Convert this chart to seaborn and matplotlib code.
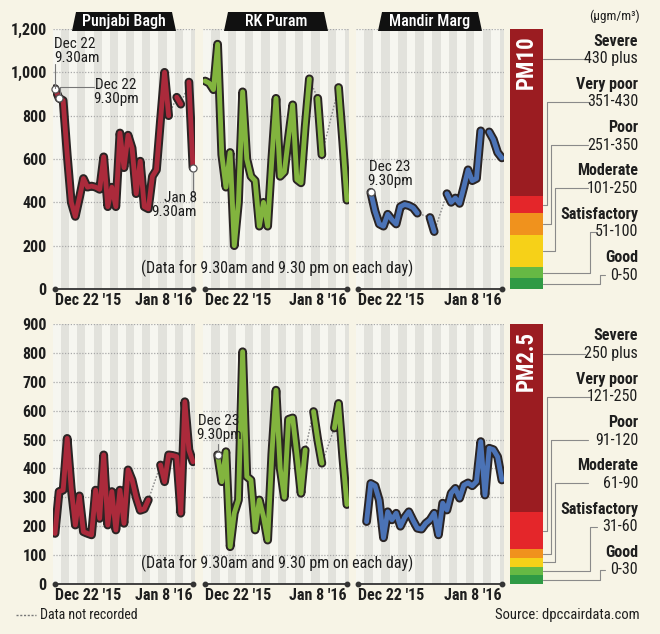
import numpy as np
import pandas as pd
import matplotlib
matplotlib.use("Agg")
import matplotlib.pyplot as plt
import matplotlib.patheffects as pe
from matplotlib import font_manager
from matplotlib.patches import Polygon
import seaborn as sns

nan = np.nan

# ---------------- data ----------------
stations = ["Punjabi Bagh", "RK Puram", "Mandir Marg"]
line_colors = ["#ab2a3b", "#82b43e", "#4b73b6"]
x_tick_labels = ["Dec 22 '15", "Jan 8 '16"]

# 35 readings: Dec 22 9.30am, Dec 22 9.30pm, ... Jan 8 9.30am
pm10_punjabi_bagh = [925, 880, 870, 620, 400, 335, 420, 510, 470, 475, 470, 460,
                     610, 380, 470, 380, 720, 560, 710, 650, 440, 590, 380, 370,
                     520, 550, 780, 1000, 800, nan, 885, 853, nan, 955, 560]
pm10_rk_puram = [960, 950, 920, 1130, 620, 470, 630, 200, 400, 910, 600, 520,
                 500, 290, 400, 290, 600, 880, 520, 540, 700, 850, 505, 490,
                 750, 970, nan, 880, 620, nan, nan, nan, 930, 680, 410]
pm10_mandir_marg = [nan, nan, nan, 446, 360, 300, 290, 345, 320, 300, 380, 390,
                    385, 375, 350, nan, nan, 330, 265, nan, nan, 440, 400, 420,
                    395, 470, 550, 500, 510, 730, nan, 725, 690, 630, 605]

pm25_punjabi_bagh = [175, 320, 325, 504, 330, 204, 305, 181, 175, 170, 325, 227,
                     447, 204, 320, 187, 325, 210, 395, 360, 300, 255, 260, 291,
                     nan, nan, 412, 354, 447, 445, 441, 245, 631, 464, 423]
pm25_rk_puram = [nan, nan, nan, 447, 354, 458, 129, 245, 291, 804, 372, 360,
                 187, 291, 233, 152, 450, 671, 400, 300, 570, 575, 450, 314,
                 464, nan, 597, 500, 418, nan, nan, 540, 625, 440, 275]
pm25_mandir_marg = [nan, nan, 216, 348, 340, 290, 160, 250, 222, 245, 200, 230,
                    250, 220, 193, 190, 210, 222, 245, 170, 280, 256, 314, 331,
                    297, 342, 350, 340, 355, 493, 308, 470, 465, 440, 360]

pm10_ticks = [0, 200, 400, 600, 800, 1000, 1200]
pm25_ticks = [0, 100, 200, 300, 400, 500, 600, 700, 800, 900]

categories = ["Good", "Satisfactory", "Moderate", "Poor", "Very poor", "Severe"]
band_colors = ["#2f9a45", "#66b944", "#f6d118", "#f0921d", "#e4262a", "#9b1c21"]
pm10_bounds = [0, 50, 100, 250, 350, 430, 1200]
pm25_bounds = [0, 30, 60, 90, 120, 250, 900]
pm10_ranges = ["0-50", "51-100", "101-250", "251-350", "351-430", "430 plus"]
pm25_ranges = ["0-30", "31-60", "61-90", "91-120", "121-250", "250 plus"]

# ---------------- style ----------------
sns.set_theme(style="white")
avail = {f.name for f in font_manager.fontManager.ttflist}
FONT = next((f for f in ["Liberation Sans Narrow", "Roboto Condensed", "Roboto", "DejaVu Sans"]
             if f in avail), "DejaVu Sans")
plt.rcParams["font.family"] = [FONT, "DejaVu Sans"]

W, H = 660, 634
BG = "#f7f4e6"
PANEL_BG = "#f6f6f0"
STRIPE = "#e2e2dc"
INK = "#1e1e1e"

fig = plt.figure(figsize=(W / 100, H / 100), dpi=100, facecolor=BG)


def px_axes(x0, x1, y_top, y_bot, **kw):
    return fig.add_axes([x0 / W, 1 - y_bot / H, (x1 - x0) / W, (y_bot - y_top) / H], **kw)


ov = px_axes(0, W, 0, H, zorder=20)
ov.set_xlim(0, W)
ov.set_ylim(H, 0)
ov.axis("off")
ov.patch.set_alpha(0)

panel_x = [(53, 195), (203, 349), (356, 504)]
rows = [
    dict(vals=[pm10_punjabi_bagh, pm10_rk_puram, pm10_mandir_marg], ticks=pm10_ticks,
         top=29, bot=289, bounds=pm10_bounds, ranges=pm10_ranges, name="PM10"),
    dict(vals=[pm25_punjabi_bagh, pm25_rk_puram, pm25_mandir_marg], ticks=pm25_ticks,
         top=324, bot=584, bounds=pm25_bounds, ranges=pm25_ranges, name="PM2.5"),
]

outline = [pe.Stroke(linewidth=6.3, foreground="#2a2424"), pe.Normal()]

for r, row in enumerate(rows):
    for p, (vals, color) in enumerate(zip(row["vals"], line_colors)):
        x0, x1 = panel_x[p]
        ax = px_axes(x0, x1, row["top"], row["bot"])
        n = len(vals)
        ax.set_facecolor(PANEL_BG)
        for d in range(1, n // 2 + 1, 2):
            ax.axvspan(2 * d - 0.5, 2 * d + 1.5, color=STRIPE, lw=0, zorder=0)
        df = pd.DataFrame({"idx": np.arange(n), "value": vals})
        df["seg"] = df["value"].isna().cumsum()
        valid = df.dropna()
        # data-not-recorded connector
        sns.lineplot(data=valid, x="idx", y="value", ax=ax, color="#8a8a8a", lw=1.0,
                     ls=(0, (1.2, 1.2)), estimator=None, sort=False, zorder=2, legend=False)
        sns.lineplot(data=valid, x="idx", y="value", units="seg", estimator=None, sort=False,
                     ax=ax, color=color, lw=3.5, path_effects=outline, zorder=3,
                     solid_capstyle="round", solid_joinstyle="round", legend=False)
        ymax = row["ticks"][-1]
        ax.set_xlim(-0.5, n - 0.5)
        ax.set_ylim(0, ymax)
        ax.plot([0, n - 1], [0, 0], color="#333333", lw=1.3, marker="o", ms=3.2,
                clip_on=False, zorder=4)
        ax.set_yticks(row["ticks"])
        ax.set_yticklabels([f"{t:,}" for t in row["ticks"]])
        ax.grid(axis="y", color="#a9a9a9", ls=(0, (1, 1.3)), lw=0.9)
        ax.set_axisbelow(True)
        ax.set_xticks([0, n - 1])
        ax.set_xticklabels(x_tick_labels)
        xl = ax.get_xticklabels()
        xl[0].set_ha("left")
        xl[1].set_ha("right")
        ax.tick_params(length=0, labelsize=11.5, colors=INK, pad=3)
        ax.tick_params(axis="y", pad=4.5)
        for lab in ax.get_yticklabels() + ax.get_xticklabels():
            lab.set_fontweight("bold")
        if p > 0:
            ax.tick_params(labelleft=False)
        for s in ax.spines.values():
            s.set_visible(False)
        ax.set_xlabel("")
        ax.set_ylabel("")
        # annotated markers
        marks = {(0, 0): [0, 1, n - 1], (0, 2): [3], (1, 1): [3]}.get((r, p), [])
        if marks:
            ax.scatter(df["idx"].iloc[marks], df["value"].iloc[marks], s=26, facecolor="white",
                       edgecolor="#555555", lw=0.9, zorder=5, clip_on=False)
        if r == 0:
            cx = (x0 + x1) / 2
            ov.add_patch(Polygon([(cx - 52, 31), (cx - 48, 12), (cx + 48, 12), (cx + 52, 31)],
                                 closed=True, color="#111111", lw=0))
            ov.text(cx, 21.5, stations[p], color="white", fontsize=11.5, ha="center",
                    va="center", fontweight="medium")

    # colour scale bar
    bax = px_axes(510, 543, row["top"], row["bot"])
    b = row["bounds"]
    bax.bar([0] * 6, np.diff(b), bottom=b[:-1], width=1, color=band_colors, lw=0)
    bax.set_xlim(-0.5, 0.5)
    bax.set_ylim(0, row["ticks"][-1])
    bax.axis("off")
    bax.text(0, b[-1] * 0.975, row["name"], rotation=90, ha="center", va="top", color="white",
             fontsize=16.5, fontweight="bold")

    # legend labels and leader lines
    base = row["bot"] - 14
    step = 43.3
    xv = [600, 590, 555, 551, 547, None]
    xend = [605, 597, 588, 588, 590, 585]
    for k in range(6):
        ry = base - step * k
        ov.text(638, ry - 17.5, categories[k], ha="right", va="center", fontsize=11.5,
                fontweight="bold", color=INK)
        ov.text(638, ry, row["ranges"][k], ha="right", va="center", fontsize=11.5, color=INK)
        mid = (b[k] + b[k + 1]) / 2
        ay = H - bax.transData.transform((0, mid))[1]
        if xv[k] is None:
            ov.plot([543, xend[k]], [ry, ry], color="#8a8a8a", lw=0.8)
        else:
            ov.plot([543, xv[k], xv[k], xend[k]], [ay, ay, ry, ry], color="#8a8a8a", lw=0.8)

    ov.text(277, row["bot"] - 21, "(Data for 9.30am and 9.30 pm on each day)", ha="center",
            va="center", fontsize=11.5, color=INK)

ov.text(640, 16, "(\u00b5gm/m\u00b3)", ha="right", va="center", fontsize=9.5, color=INK)

# annotations
ann = dict(fontsize=11, color=INK, linespacing=0.95)
ov.text(54, 51, "Dec 22\n9.30am", ha="left", va="center", **ann)
ov.plot([55, 55], [64, 88], color="#777777", lw=0.8)
ov.text(116, 92, "Dec 22\n9.30pm", ha="center", va="center", **ann)
ov.plot([60, 60, 94], [95, 87, 87], color="#777777", lw=0.8)
ov.text(197, 205, "Jan 8\n9.30am", ha="right", va="center", multialignment="right", **ann)
ov.plot([193, 193], [172, 192], color="#777777", lw=0.8)
ov.text(390, 174, "Dec 23\n9.30pm", ha="center", va="center", **ann)
ov.text(219, 428, "Dec 23\n9.30pm", ha="center", va="center", **ann)
ov.plot([218, 218], [444, 452], color="#777777", lw=0.8)

# footer
ov.plot([16, 36], [615, 615], color="#777777", lw=1.0, ls=(0, (1.5, 1.2)))
ov.text(40, 615, "Data not recorded", ha="left", va="center", fontsize=10, color=INK)
ov.text(640, 615, "Source: dpccairdata.com", ha="right", va="center", fontsize=10.5, color=INK)

fig.savefig("out.png", dpi=100, facecolor=BG)
